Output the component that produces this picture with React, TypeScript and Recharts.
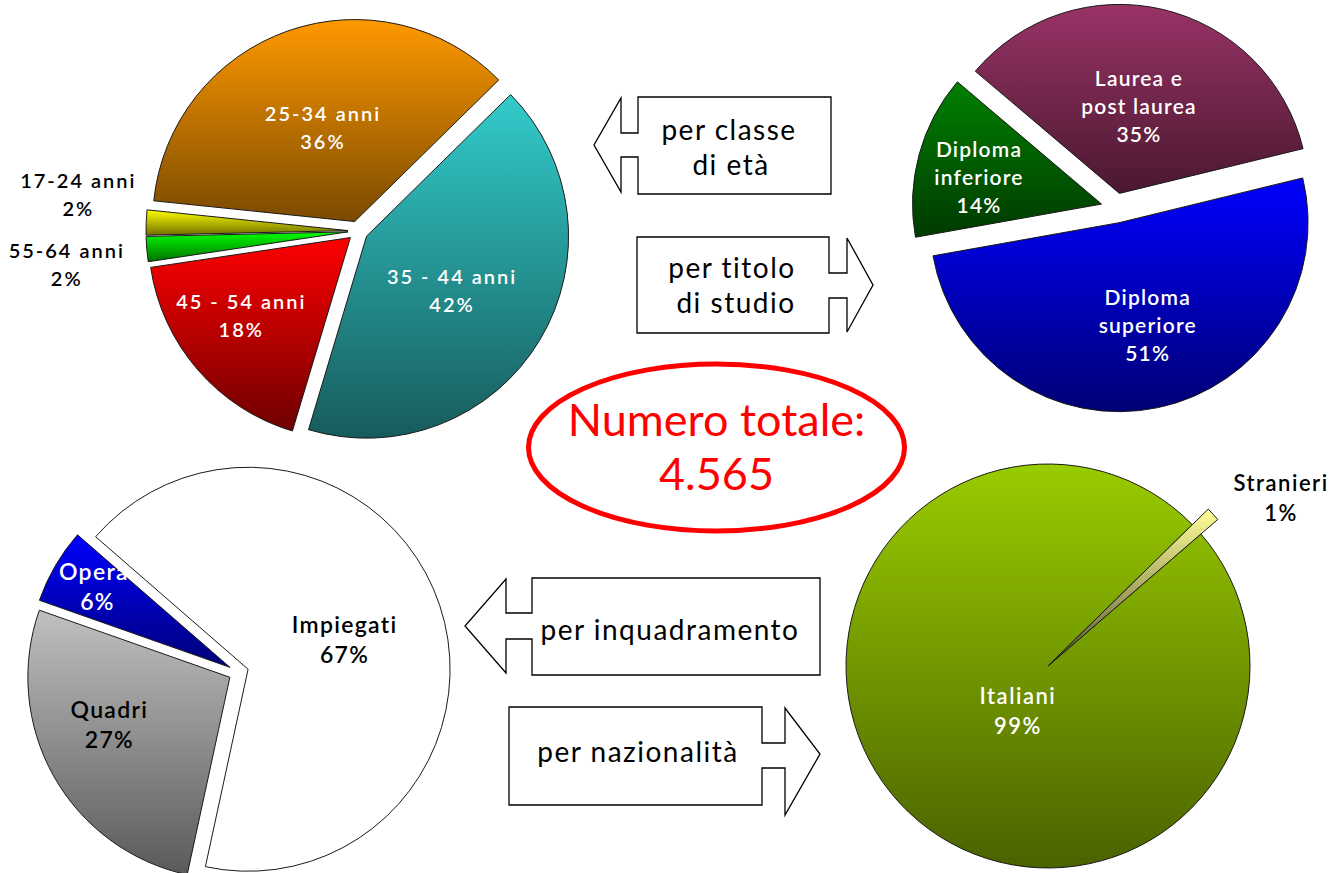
import React from 'react';
import { PieChart, Pie, Sector } from 'recharts';

// ---------------- data ----------------
const ageCategories = ['35 - 44 anni', '45 - 54 anni', '55-64 anni', '17-24 anni', '25-34 anni'];
const ageValues = [42, 18, 2, 2, 36];

const studyCategories = ['Diploma superiore', 'Diploma inferiore', 'Laurea e post laurea'];
const studyLabelLines = [['Diploma', 'superiore'], ['Diploma', 'inferiore'], ['Laurea e', 'post laurea']];
const studyValues = [51, 14, 35];

const roleCategories = ['Quadri', 'Operai', 'Impiegati'];
const roleValues = [27, 6, 67];

const nationCategories = ['Italiani', 'Stranieri'];
const nationValues = [99, 1];

const totalTitle = 'Numero totale:';
const totalValue = '4.565';

const arrowAgeLines = ['per classe', 'di età'];
const arrowStudyLines = ['per titolo', 'di studio'];
const arrowRoleLines = ['per inquadramento'];
const arrowNationLines = ['per nazionalità'];

// ---------------- styles / layout ----------------
const FONT = 'Lato, "Open Sans", sans-serif';
const RAD = Math.PI / 180;

type SliceStyle = {
  top: string; bottom: string; text: string; stroke: string;
  r: number; dx: number; dy: number; explode: number; radiusScale?: number;
};

const ageStyles: SliceStyle[] = [
  { top: '#33CCCC', bottom: '#175B5B', text: '#FFFFFF', stroke: '#1a1a1a', r: 101, dx: -1, dy: 1.6, explode: 10 },
  { top: '#FF0000', bottom: '#6E0000', text: '#FFFFFF', stroke: '#1a1a1a', r: 133, dx: -8.6, dy: -10, explode: 10 },
  { top: '#00FF00', bottom: '#007000', text: '#000000', stroke: '#1a1a1a', r: 283, dx: 0.7, dy: 8, explode: 10 },
  { top: '#FFFF00', bottom: '#707000', text: '#000000', stroke: '#1a1a1a', r: 271, dx: 1.1, dy: -25.7, explode: 10 },
  { top: '#FF9900', bottom: '#7A4A00', text: '#FFFFFF', stroke: '#1a1a1a', r: 105, dx: 3, dy: 4.5, explode: 10 },
];
const studyStyles: SliceStyle[] = [
  { top: '#0000FF', bottom: '#000075', text: '#FFFFFF', stroke: '#1a1a1a', r: 105, dx: 7, dy: -1.5, explode: 15 },
  { top: '#008000', bottom: '#003A00', text: '#FFFFFF', stroke: '#1a1a1a', r: 125.6, dx: -1.2, dy: 4.6, explode: 15 },
  { top: '#993366', bottom: '#4A1830', text: '#FFFFFF', stroke: '#1a1a1a', r: 91, dx: -1.4, dy: -0.3, explode: 15 },
];
const roleStyles: SliceStyle[] = [
  { top: '#C0C0C0', bottom: '#5A5A5A', text: '#000000', stroke: '#1a1a1a', r: 130, dx: -7, dy: -17, explode: 10 },
  { top: '#0000FF', bottom: '#000078', text: '#FFFFFF', stroke: '#1a1a1a', r: 151, dx: -2, dy: -5, explode: 10 },
  { top: '#FFFFFF', bottom: '#FFFFFF', text: '#000000', stroke: '#1a1a1a', r: 101.7, dx: 0, dy: 2, explode: 10 },
];
const nationStyles: SliceStyle[] = [
  { top: '#99CC00', bottom: '#4A6200', text: '#FFFFFF', stroke: '#1a1a1a', r: 52, dx: 8.2, dy: 8.9, explode: 0 },
  { top: '#FFFF99', bottom: '#55552F', text: '#000000', stroke: '#1a1a1a', r: 286, dx: 22.6, dy: 24.6, explode: 0, radiusScale: 1.11 },
];

type TextStyle = { size: number; lh: number; spacing: number; weight: number };

function makeShape(
  gid: string,
  names: string[],
  lines: string[][],
  values: number[],
  styles: SliceStyle[],
  ts: TextStyle,
) {
  return (props: any) => {
    const name = props.name ?? props.payload?.name;
    let i = names.indexOf(name);
    if (i < 0 && typeof props.index === 'number') i = props.index;
    if (i < 0) i = 0;
    const s = styles[i];
    const mid = props.midAngle;
    const ux = Math.cos(-mid * RAD);
    const uy = Math.sin(-mid * RAD);
    const ox = props.cx + s.explode * ux;
    const oy = props.cy + s.explode * uy;
    const outer = props.outerRadius * (s.radiusScale ?? 1);
    const lx = ox + s.r * ux + s.dx;
    const ly = oy + s.r * uy + s.dy;
    const all = [...lines[i], `${values[i]}%`];
    return (
      <g>
        <Sector
          cx={ox}
          cy={oy}
          innerRadius={0}
          outerRadius={outer}
          startAngle={props.startAngle}
          endAngle={props.endAngle}
          fill={`url(#${gid}-${i})`}
          stroke={s.stroke}
          strokeWidth={1}
        />
        <text
          textAnchor="middle"
          dominantBaseline="central"
          fill={s.text}
          fontFamily={FONT}
          fontSize={ts.size}
          fontWeight={ts.weight}
          letterSpacing={ts.spacing}
        >
          {all.map((l, k) => (
            <tspan key={k} x={lx} y={ly - ((all.length - 1) * ts.lh) / 2 + k * ts.lh}>
              {l}
            </tspan>
          ))}
        </text>
      </g>
    );
  };
}

const ageData = ageCategories.map((name, i) => ({ name, value: ageValues[i] }));
const studyData = studyCategories.map((name, i) => ({ name, value: studyValues[i] }));
const roleData = roleCategories.map((name, i) => ({ name, value: roleValues[i] }));
const nationData = nationCategories.map((name, i) => ({ name, value: nationValues[i] }));

const ageShape = makeShape('age', ageCategories, ageCategories.map((c) => [c]), ageValues, ageStyles,
  { size: 20, lh: 28, spacing: 2, weight: 600 });
const studyShape = makeShape('study', studyCategories, studyLabelLines, studyValues, studyStyles,
  { size: 21, lh: 28, spacing: 1.2, weight: 600 });
const roleShape = makeShape('role', roleCategories, roleCategories.map((c) => [c]), roleValues, roleStyles,
  { size: 23, lh: 30, spacing: 1.3, weight: 600 });
const nationShape = makeShape('nation', nationCategories, nationCategories.map((c) => [c]), nationValues, nationStyles,
  { size: 22, lh: 30, spacing: 1.5, weight: 600 });

function Gradients({ id, styles }: { id: string; styles: SliceStyle[] }) {
  return (
    <>
      {styles.map((s, i) => (
        <linearGradient key={i} id={`${id}-${i}`} x1="0" y1="0" x2="0" y2="1">
          <stop offset="0" stopColor={s.top} />
          <stop offset="1" stopColor={s.bottom} />
        </linearGradient>
      ))}
    </>
  );
}

const arrowText = { fontFamily: FONT, fontSize: 28, letterSpacing: 1.5, fill: '#000' } as const;

export default function App() {
  return (
    <div style={{ position: 'absolute', left: 0, top: 0, width: 1335, height: 873, background: '#fff', overflow: 'hidden' }}>
      <PieChart width={1335} height={873} margin={{ top: 0, right: 0, bottom: 0, left: 0 }}>
        <defs>
          <Gradients id="age" styles={ageStyles} />
          <Gradients id="study" styles={studyStyles} />
          <Gradients id="role" styles={roleStyles} />
          <Gradients id="nation" styles={nationStyles} />
        </defs>
        <Pie
          data={ageData}
          dataKey="value"
          nameKey="name"
          cx={358}
          cy={231}
          outerRadius={202}
          startAngle={44.5}
          endAngle={-315.5}
          shape={ageShape}
          label={false}
          labelLine={false}
          isAnimationActive={false}
        />
        <Pie
          data={studyData}
          dataKey="value"
          nameKey="name"
          cx={1116}
          cy={208}
          outerRadius={189}
          startAngle={13.7}
          endAngle={-346.3}
          shape={studyShape}
          label={false}
          labelLine={false}
          isAnimationActive={false}
        />
        <Pie
          data={roleData}
          dataKey="value"
          nameKey="name"
          cx={238.6}
          cy={672.4}
          outerRadius={202}
          startAngle={-102.2}
          endAngle={-462.2}
          shape={roleShape}
          label={false}
          labelLine={false}
          isAnimationActive={false}
        />
        <Pie
          data={nationData}
          dataKey="value"
          nameKey="name"
          cx={1048}
          cy={666}
          outerRadius={202}
          startAngle={40.8}
          endAngle={-319.2}
          shape={nationShape}
          label={false}
          labelLine={false}
          isAnimationActive={false}
        />
      </PieChart>
      <svg width={1335} height={873} style={{ position: 'absolute', left: 0, top: 0, pointerEvents: 'none' }}>
        {/* arrow: per classe di età (left) */}
        <path
          d="M638,97 L831,97 L831,194 L638,194 L638,157 L621,157 L621,192 L594,145 L621,98 L621,133 L638,133 Z"
          fill="#fff" stroke="#000" strokeWidth={1.3}
        />
        <text x={729} y={140} textAnchor="middle" {...arrowText}>{arrowAgeLines[0]}</text>
        <text x={731} y={175} textAnchor="middle" {...arrowText}>{arrowAgeLines[1]}</text>
        {/* arrow: per titolo di studio (right) */}
        <path
          d="M637,237 L829,237 L829,273 L847,273 L847,238 L873,285 L847,332 L847,298 L829,298 L829,333 L637,333 Z"
          fill="#fff" stroke="#000" strokeWidth={1.3}
        />
        <text x={732} y={278} textAnchor="middle" {...arrowText}>{arrowStudyLines[0]}</text>
        <text x={736} y={313} textAnchor="middle" {...arrowText}>{arrowStudyLines[1]}</text>
        {/* arrow: per inquadramento (left) */}
        <path
          d="M532,578 L820,578 L820,675 L532,675 L532,639 L506,639 L506,673 L465,626 L506,579 L506,613 L532,613 Z"
          fill="#fff" stroke="#000" strokeWidth={1.3}
        />
        <text x={670} y={640} textAnchor="middle" {...arrowText}>{arrowRoleLines[0]}</text>
        {/* arrow: per nazionalità (right) */}
        <path
          d="M509,707 L762,707 L762,743 L785,743 L785,708 L820,754 L785,815 L785,768 L762,768 L762,805 L509,805 Z"
          fill="#fff" stroke="#000" strokeWidth={1.3}
        />
        <text x={638} y={762} textAnchor="middle" {...arrowText}>{arrowNationLines[0]}</text>
        {/* total ellipse */}
        <ellipse cx={716.5} cy={447.5} rx={188} ry={83.5} fill="none" stroke="#FF0000" strokeWidth={5} />
        <text x={716.5} y={436} textAnchor="middle" fontFamily={FONT} fontSize={45} fill="#FF0000">{totalTitle}</text>
        <text x={716.5} y={490} textAnchor="middle" fontFamily={FONT} fontSize={45} fill="#FF0000">{totalValue}</text>
      </svg>
    </div>
  );
}
